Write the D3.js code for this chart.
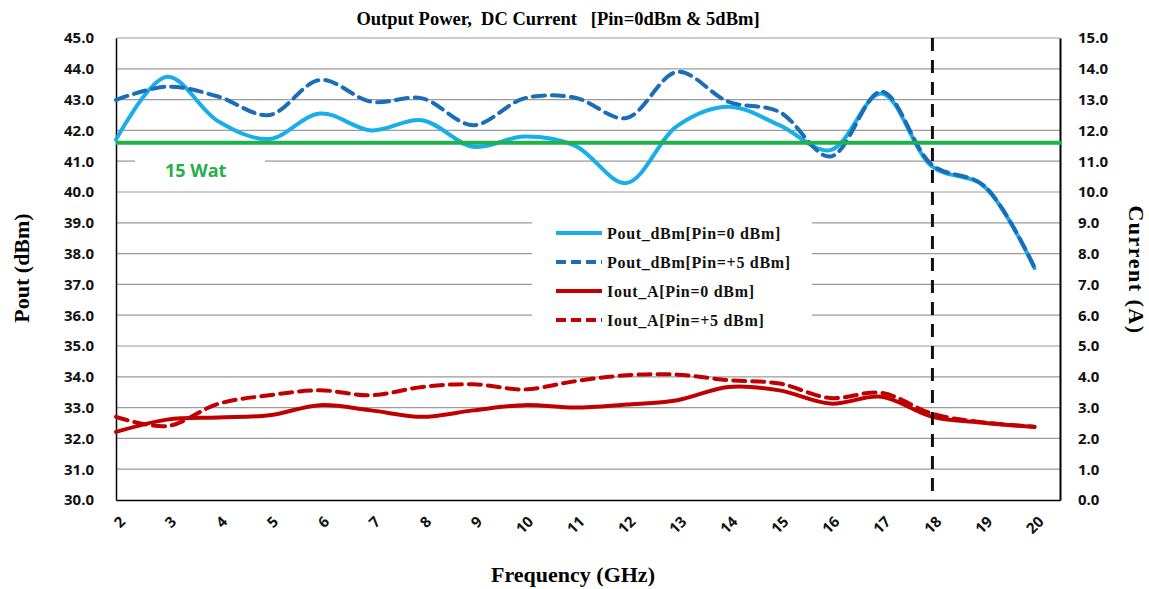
<!DOCTYPE html>
<html>
<head>
<meta charset="utf-8">
<script src="https://cdn.jsdelivr.net/npm/d3@7"></script>
<style>
  body { margin: 0; background: #fff; }
  svg { display: block; }
</style>
</head>
<body>
<script>
var freqs = [2,3,4,5,6,7,8,9,10,11,12,13,14,15,16,17,18,19,20];
var pout0 = [41.7,43.74,42.3,41.72,42.55,42.0,42.33,41.47,41.8,41.5,40.29,42.15,42.77,42.17,41.36,43.2,40.82,40.2,37.53];
var pout5 = [42.99,43.42,43.1,42.5,43.64,42.93,43.04,42.17,43.04,43.06,42.4,43.9,42.93,42.6,41.15,43.26,40.87,40.22,37.55];
var iout0 = [2.21,2.61,2.68,2.75,3.08,2.91,2.7,2.91,3.08,3.0,3.1,3.24,3.67,3.56,3.13,3.35,2.7,2.51,2.37];
var iout5 = [2.7,2.4,3.12,3.4,3.56,3.4,3.67,3.76,3.59,3.86,4.05,4.07,3.89,3.78,3.31,3.48,2.8,2.52,2.38];
var leftTicks = [30,31,32,33,34,35,36,37,38,39,40,41,42,43,44,45];
var rightTicks = [0,1,2,3,4,5,6,7,8,9,10,11,12,13,14,15];
var limit15W = 41.6;
var cutoffFreq = 18;

var W = 1149, H = 589,
    margin = {top:38, right:89, bottom:89, left:116},
    width = W - margin.left - margin.right,
    height = H - margin.top - margin.bottom;

var svg = d3.select("body").append("svg")
    .attr("width", W).attr("height", H);

var x = d3.scaleLinear().domain([2, 20.5]).range([0, width]);
var yL = d3.scaleLinear().domain([30, 45]).range([height, 0]);
var yR = d3.scaleLinear().domain([0, 15]).range([height, 0]);

var g = svg.append("g").attr("transform", "translate(" + margin.left + "," + margin.top + ")");

var sansBold = "'Open Sans', 'Liberation Sans', sans-serif";
var serif = "'Liberation Serif', 'Times New Roman', serif";

// gridlines
g.selectAll(".grid").data(leftTicks.slice(1))
  .enter().append("line")
  .attr("x1", 0).attr("x2", width)
  .attr("y1", function(d){ return yL(d); }).attr("y2", function(d){ return yL(d); })
  .attr("stroke", "#9a9a9a").attr("stroke-width", 1.2);

// white boxes behind legend and label (break gridlines)
g.append("rect").attr("x", 532 - margin.left).attr("y", 205 - margin.top)
  .attr("width", 280).attr("height", 128).attr("fill", "#fff");
g.append("rect").attr("x", 135 - margin.left).attr("y", 150 - margin.top)
  .attr("width", 130).attr("height", 34).attr("fill", "#fff");

// axes
var axL = g.append("g").call(d3.axisLeft(yL).tickValues(leftTicks).tickSize(0).tickPadding(22).tickFormat(d3.format(".1f")));
var axR = g.append("g").attr("transform", "translate(" + width + ",0)")
  .call(d3.axisRight(yR).tickValues(rightTicks).tickSize(0).tickPadding(18).tickFormat(d3.format(".1f")));
var axB = g.append("g").attr("transform", "translate(0," + height + ")")
  .call(d3.axisBottom(x).tickValues(freqs).tickSize(0).tickFormat(d3.format("d")));

[axL, axR, axB].forEach(function(a){
  a.select(".domain").attr("stroke", "#000").attr("stroke-width", 1.5);
  a.selectAll("text").attr("font-family", sansBold).attr("font-weight", 700)
    .attr("font-size", 15).attr("fill", "#111");
});
axR.select(".domain").attr("stroke-width", 2);
axB.selectAll("text")
  .attr("text-anchor", "end")
  .attr("transform", "translate(6,19) rotate(-45)")
  .attr("dy", "0.35em").attr("y", 0).attr("font-size", 15);

// series
var lineL = function(vals){
  return d3.line().x(function(d,i){ return x(freqs[i]); }).y(function(d){ return yL(d); })
    .curve(d3.curveCatmullRom.alpha(0.5))(vals);
};
var lineR = function(vals){
  return d3.line().x(function(d,i){ return x(freqs[i]); }).y(function(d){ return yR(d); })
    .curve(d3.curveCatmullRom.alpha(0.5))(vals);
};

var series = [
  {name:"Pout_dBm[Pin=0 dBm]", path: lineL(pout0), color:"#19aeea", dash:null},
  {name:"Pout_dBm[Pin=+5 dBm]", path: lineL(pout5), color:"#1b6db8", dash:"12,7"},
  {name:"Iout_A[Pin=0 dBm]", path: lineR(iout0), color:"#c00000", dash:null},
  {name:"Iout_A[Pin=+5 dBm]", path: lineR(iout5), color:"#c00000", dash:"12,7"}
];

g.selectAll(".series").data(series).enter().append("path")
  .attr("d", function(d){ return d.path; })
  .attr("fill", "none")
  .attr("stroke", function(d){ return d.color; })
  .attr("stroke-width", 4)
  .attr("stroke-linecap", "round")
  .attr("stroke-dasharray", function(d){ return d.dash; });

// 15 W limit line
g.append("line")
  .attr("x1", 0).attr("x2", width + 2)
  .attr("y1", yL(limit15W)).attr("y2", yL(limit15W))
  .attr("stroke", "#1fb14a").attr("stroke-width", 4);

g.append("text").attr("x", 165 - margin.left).attr("y", 177 - margin.top)
  .attr("font-family", sansBold).attr("font-weight", 700).attr("font-size", 18)
  .attr("fill", "#22b04b").text("15 Wat");

// cutoff line at 18 GHz
g.append("line")
  .attr("x1", x(cutoffFreq)).attr("x2", x(cutoffFreq))
  .attr("y1", 0).attr("y2", height)
  .attr("stroke", "#111").attr("stroke-width", 3).attr("stroke-dasharray", "13,9");

// legend
var leg = svg.selectAll(".legend").data(series).enter().append("g")
  .attr("transform", function(d,i){ return "translate(556," + (233 + i*29) + ")"; });
leg.append("line").attr("x1", 0).attr("x2", 46)
  .attr("stroke", function(d){ return d.color; }).attr("stroke-width", 4)
  .attr("stroke-dasharray", function(d){ return d.dash ? "10,5" : null; });
leg.append("text").attr("x", 51).attr("dy", "0.35em")
  .attr("font-family", serif).attr("font-weight", 700).attr("font-size", 16)
  .attr("letter-spacing", 0.7)
  .attr("fill", "#111").text(function(d){ return d.name; });

// titles
svg.append("text").attr("x", 558).attr("y", 25).attr("text-anchor", "middle")
  .attr("font-family", serif).attr("font-weight", 700).attr("font-size", 18.5)
  .attr("xml:space", "preserve").style("white-space", "pre")
  .text("Output Power,  DC Current   [Pin=0dBm & 5dBm]");

svg.append("text").attr("transform", "translate(29,268) rotate(-90)").attr("text-anchor", "middle")
  .attr("font-family", serif).attr("font-weight", 700).attr("font-size", 22)
  .text("Pout (dBm)");

svg.append("text").attr("transform", "translate(1129,270) rotate(90)").attr("text-anchor", "middle")
  .attr("font-family", serif).attr("font-weight", 700).attr("font-size", 22)
  .attr("letter-spacing", 1.5)
  .text("Current (A)");

svg.append("text").attr("x", 573).attr("y", 582).attr("text-anchor", "middle")
  .attr("font-family", serif).attr("font-weight", 700).attr("font-size", 22)
  .text("Frequency (GHz)");
</script>
</body>
</html>
